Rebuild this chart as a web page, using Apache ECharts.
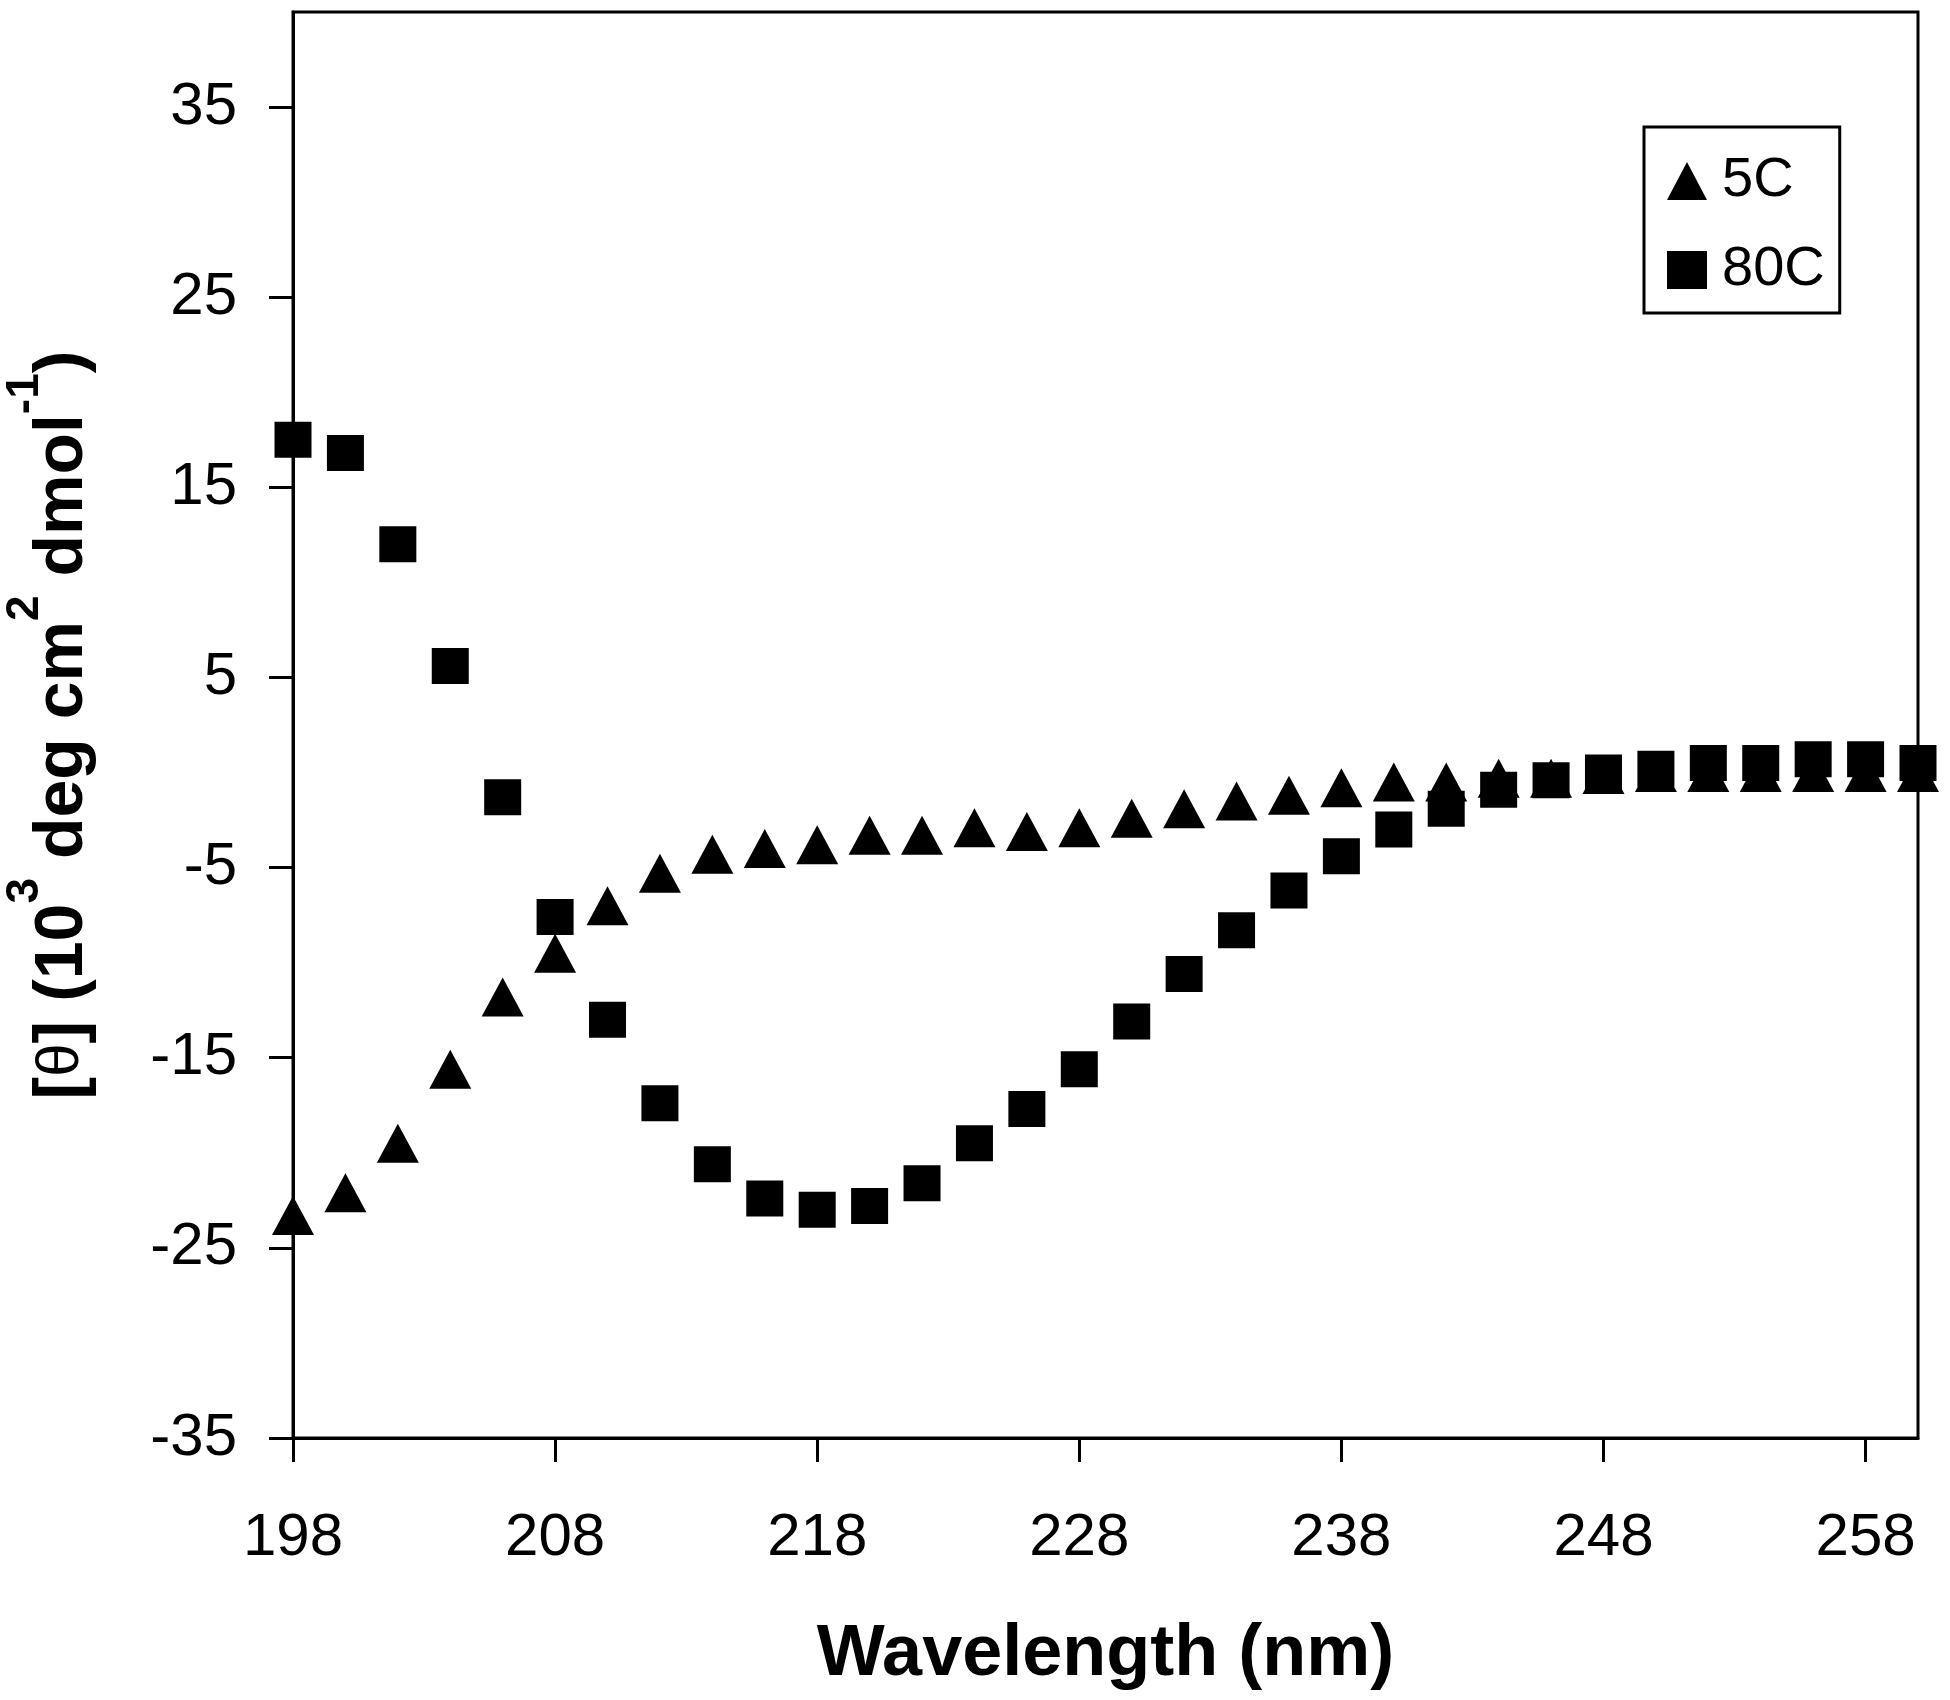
<!DOCTYPE html>
<html>
<head>
<meta charset="utf-8">
<script src="https://cdn.jsdelivr.net/npm/echarts@6/dist/echarts.min.js"></script>
<style>
html,body{margin:0;padding:0;background:#fff;}
#chart{width:1950px;height:1700px;}
</style>
</head>
<body>
<div id="chart"></div>
<script>
// Wavelength (nm)
const wavelengths = [198,200,202,204,206,208,210,212,214,216,218,220,222,224,226,228,230,232,234,236,238,240,242,244,246,248,250,252,254,256,258,260];
// [theta] at 5 C (10^3 deg cm^2 dmol^-1)
const theta5C = [-23.3,-22.1,-19.5,-15.6,-11.8,-9.5,-7.0,-5.3,-4.3,-4.0,-3.8,-3.3,-3.3,-2.9,-3.1,-2.9,-2.4,-1.9,-1.5,-1.2,-0.8,-0.5,-0.5,-0.3,-0.3,-0.1,0.0,0.0,0.0,0.0,0.0,0.0];
// [theta] at 80 C
const theta80C = [17.5,16.8,12.0,5.6,-1.3,-7.6,-13.0,-17.4,-20.6,-22.4,-23.0,-22.8,-21.6,-19.5,-17.7,-15.6,-13.1,-10.6,-8.3,-6.2,-4.4,-3.0,-1.9,-0.9,-0.4,0.0,0.2,0.5,0.5,0.7,0.7,0.5];
const seriesNames = ['5C', '80C'];
const xTickValues = [198,208,218,228,238,248,258];
const yTickValues = [-35,-25,-15,-5,5,15,25,35];

const FONT = 'Liberation Sans, Arial, Helvetica, sans-serif';
const chart = echarts.init(document.getElementById('chart'), null, {renderer: 'canvas'});

const option = {
  animation: false,
  backgroundColor: '#ffffff',
  grid: {
    left: 293, right: 32, top: 12, bottom: 262,
    containLabel: false, outerBoundsMode: 'none',
    show: true, borderColor: '#000', borderWidth: 3, backgroundColor: 'transparent'
  },
  legend: {
    orient: 'vertical',
    left: 1644, top: 127,
    padding: [26, 15, 15, 23],
    itemGap: 33,
    itemWidth: 40, itemHeight: 38,
    borderColor: '#000', borderWidth: 3,
    selectedMode: false,
    textStyle: {fontFamily: FONT, fontSize: 56, color: '#000', padding: [0, 0, 0, 10]},
    data: [
      {name: seriesNames[0], icon: 'triangle'},
      {name: seriesNames[1], icon: 'rect'}
    ]
  },
  xAxis: {
    type: 'value', min: 198, max: 260, interval: 10,
    name: 'Wavelength (nm)', nameLocation: 'middle', nameGap: 181,
    nameTextStyle: {fontFamily: FONT, fontSize: 72, fontWeight: 'bold', color: '#000'},
    axisLine: {show: true, onZero: false, lineStyle: {color: '#000', width: 3}},
    axisTick: {show: true, inside: false, length: 24, lineStyle: {color: '#000', width: 3}, customValues: xTickValues},
    axisLabel: {fontFamily: FONT, fontSize: 60, color: '#000', margin: 70, customValues: xTickValues},
    splitLine: {show: false}
  },
  yAxis: {
    type: 'value', min: -35, max: 40, interval: 10,
    name: '{b|[}{t|θ}{b|] (10}{s|3}{b| deg cm}{s|2}{b| dmol}{s|-1}{b|)}',
    nameLocation: 'middle', nameGap: 196, nameRotate: 90,
    nameTextStyle: {
      fontFamily: FONT, fontSize: 68, fontWeight: 'bold', color: '#000',
      rich: {
        b: {fontFamily: FONT, fontSize: 68, fontWeight: 'bold', color: '#000', lineHeight: 101, verticalAlign: 'bottom'},
        t: {fontFamily: FONT, fontSize: 60, fontWeight: 'normal', color: '#000', lineHeight: 101, verticalAlign: 'bottom', padding: [0, 0, 6, 0]},
        s: {fontFamily: FONT, fontSize: 46, fontWeight: 'bold', color: '#000', lineHeight: 46, verticalAlign: 'top', padding: [6, 0, 0, 0]}
      }
    },
    axisLine: {show: true, onZero: false, lineStyle: {color: '#000', width: 3}},
    axisTick: {show: true, inside: false, length: 24, lineStyle: {color: '#000', width: 3}, customValues: yTickValues},
    axisLabel: {fontFamily: FONT, fontSize: 60, color: '#000', margin: 56, customValues: yTickValues},
    splitLine: {show: false}
  },
  series: [
    {
      name: seriesNames[0], type: 'scatter', clip: false,
      symbol: 'triangle', symbolSize: [42, 39],
      itemStyle: {color: '#000', opacity: 1},
      emphasis: {disabled: true},
      data: wavelengths.map((w, i) => [w, theta5C[i]])
    },
    {
      name: seriesNames[1], type: 'scatter', clip: false,
      symbol: 'rect', symbolSize: [37, 36],
      itemStyle: {color: '#000', opacity: 1},
      emphasis: {disabled: true},
      data: wavelengths.map((w, i) => [w, theta80C[i]])
    }
  ]
};
chart.setOption(option);
</script>
</body>
</html>
